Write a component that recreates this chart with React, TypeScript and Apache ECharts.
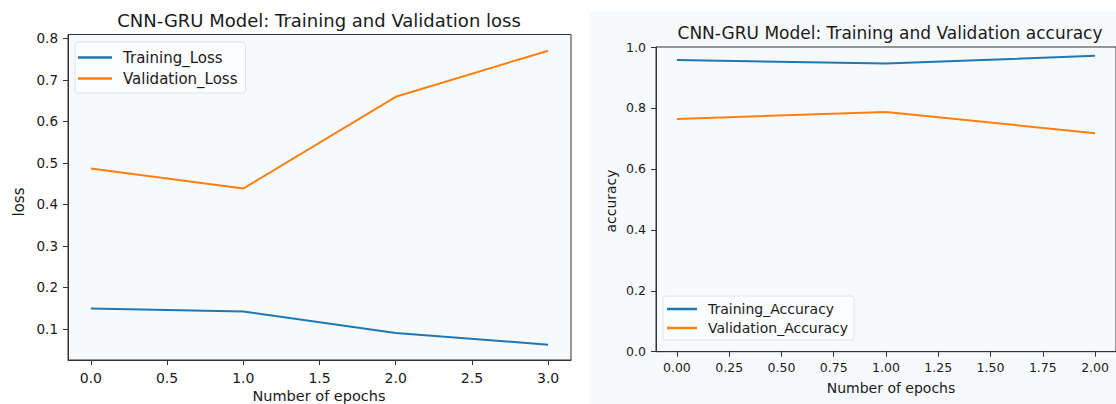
import React, { useEffect, useRef } from "react";
import * as echarts from "echarts";

const epochsLoss = [0, 1, 2, 3];
const trainingLoss = [0.149, 0.142, 0.09, 0.062];
const validationLoss = [0.486, 0.438, 0.659, 0.77];

const epochsAcc = [0, 1, 2];
const trainingAcc = [0.957, 0.946, 0.971];
const validationAcc = [0.764, 0.787, 0.717];

const lossXTicks = [0, 0.5, 1, 1.5, 2, 2.5, 3];
const lossYTicks = [0.1, 0.2, 0.3, 0.4, 0.5, 0.6, 0.7, 0.8];
const accXTicks = [0, 0.25, 0.5, 0.75, 1, 1.25, 1.5, 1.75, 2];
const accYTicks = [0, 0.2, 0.4, 0.6, 0.8, 1.0];

const titleLoss = "CNN-GRU Model: Training and Validation loss";
const titleAcc = "CNN-GRU Model: Training and Validation accuracy";

const BLUE = "#1f77b4";
const ORANGE = "#ff7f0e";
const FONT = '"DejaVu Sans", sans-serif';
const BG = "#f7fafc";
const SPINE = "#333333";
const TEXT = "#1a1a1a";

function pairs(xs: number[], ys: number[]) {
  return xs.map((x, i) => [x, ys[i]]);
}

function txt(text: string, x: number, y: number, size: number, rotation = 0) {
  return {
    type: "text",
    x,
    y,
    rotation,
    z: 10,
    style: {
      text,
      x: 0,
      y: 0,
      fill: TEXT,
      font: `${size}px ${FONT}`,
      textAlign: "center",
      textVerticalAlign: "middle",
      align: "center",
      verticalAlign: "middle",
    },
  };
}

export default function App() {
  const ref = useRef<HTMLDivElement>(null);
  useEffect(() => {
    if (!ref.current) return;
    const chart = echarts.init(ref.current, null, { renderer: "svg" });

    const axisBase = {
      axisLine: { show: true, onZero: false, lineStyle: { color: SPINE, width: 1 } },
      splitLine: { show: false },
    };

    const tick = (vals: number[]) => ({
      show: true,
      length: 5,
      lineStyle: { color: SPINE },
      customValues: vals,
    });

    const label = (vals: number[], size: number, margin: number, digits: number) => ({
      color: TEXT,
      fontSize: size,
      fontFamily: FONT,
      margin,
      customValues: vals,
      formatter: (v: number) => v.toFixed(digits),
    });

    const legendCommon = (size: number) => ({
      orient: "vertical",
      icon: "rect",
      itemHeight: 2.5,
      backgroundColor: "rgba(255,255,255,0.6)",
      borderColor: "#dde3ea",
      borderWidth: 1,
      borderRadius: 3,
      textStyle: { color: TEXT, fontSize: size, fontFamily: FONT, padding: [0, 0, 0, 6] },
    });

    const option: any = {
      animation: false,
      graphic: {
        elements: [
          {
            type: "rect",
            z: -100,
            shape: { x: 590, y: 11, width: 540, height: 400 },
            style: { fill: BG },
          },
          txt(titleLoss, 319, 20, 18),
          txt(titleAcc, 890, 33, 17),
          txt("loss", 19, 202, 15, Math.PI / 2),
          txt("accuracy", 611, 201, 14, Math.PI / 2),
          txt("Number of epochs", 319, 396, 14.5),
          txt("Number of epochs", 891, 388, 14),
        ],
      },
      grid: [
        {
          left: 68,
          top: 34.5,
          width: 503,
          height: 325.5,
          show: true,
          backgroundColor: BG,
          borderColor: SPINE,
          borderWidth: 1,
        },
        {
          left: 656,
          top: 47,
          width: 469,
          height: 304.7,
          show: true,
          backgroundColor: BG,
          borderColor: SPINE,
          borderWidth: 1,
        },
      ],
      xAxis: [
        {
          type: "value",
          gridIndex: 0,
          min: -0.15,
          max: 3.15,
          ...axisBase,
          axisTick: tick(lossXTicks),
          axisLabel: label(lossXTicks, 14, 11, 1),
        },
        {
          type: "value",
          gridIndex: 1,
          min: -0.1,
          max: 2.1,
          ...axisBase,
          axisTick: tick(accXTicks),
          axisLabel: label(accXTicks, 12.5, 9, 2),
        },
      ],
      yAxis: [
        {
          type: "value",
          gridIndex: 0,
          min: 0.025,
          max: 0.809,
          ...axisBase,
          axisTick: tick(lossYTicks),
          axisLabel: label(lossYTicks, 13.5, 10, 1),
        },
        {
          type: "value",
          gridIndex: 1,
          min: 0,
          max: 1,
          ...axisBase,
          axisTick: tick(accYTicks),
          axisLabel: label(accYTicks, 12.5, 10, 1),
        },
      ],
      legend: [
        {
          ...legendCommon(15),
          data: ["Training_Loss", "Validation_Loss"],
          left: 75,
          top: 42,
          itemWidth: 34,
          itemGap: 6,
          padding: [8, 8, 7, 3],
        },
        {
          ...legendCommon(14),
          data: ["Training_Accuracy", "Validation_Accuracy"],
          left: 663,
          top: 296,
          itemWidth: 30,
          itemGap: 5,
          padding: [6, 6, 5, 4],
        },
      ],
      series: [
        {
          name: "Training_Loss",
          type: "line",
          xAxisIndex: 0,
          yAxisIndex: 0,
          data: pairs(epochsLoss, trainingLoss),
          symbol: "none",
          lineStyle: { color: BLUE, width: 2 },
          itemStyle: { color: BLUE },
        },
        {
          name: "Validation_Loss",
          type: "line",
          xAxisIndex: 0,
          yAxisIndex: 0,
          data: pairs(epochsLoss, validationLoss),
          symbol: "none",
          lineStyle: { color: ORANGE, width: 2 },
          itemStyle: { color: ORANGE },
        },
        {
          name: "Training_Accuracy",
          type: "line",
          xAxisIndex: 1,
          yAxisIndex: 1,
          data: pairs(epochsAcc, trainingAcc),
          symbol: "none",
          lineStyle: { color: BLUE, width: 2 },
          itemStyle: { color: BLUE },
        },
        {
          name: "Validation_Accuracy",
          type: "line",
          xAxisIndex: 1,
          yAxisIndex: 1,
          data: pairs(epochsAcc, validationAcc),
          symbol: "none",
          lineStyle: { color: ORANGE, width: 2 },
          itemStyle: { color: ORANGE },
        },
      ],
    };

    chart.setOption(option);
    return () => chart.dispose();
  }, []);

  return (
    <div
      ref={ref}
      style={{ position: "absolute", left: 0, top: 0, width: 1116, height: 404, background: "#fff" }}
    />
  );
}
